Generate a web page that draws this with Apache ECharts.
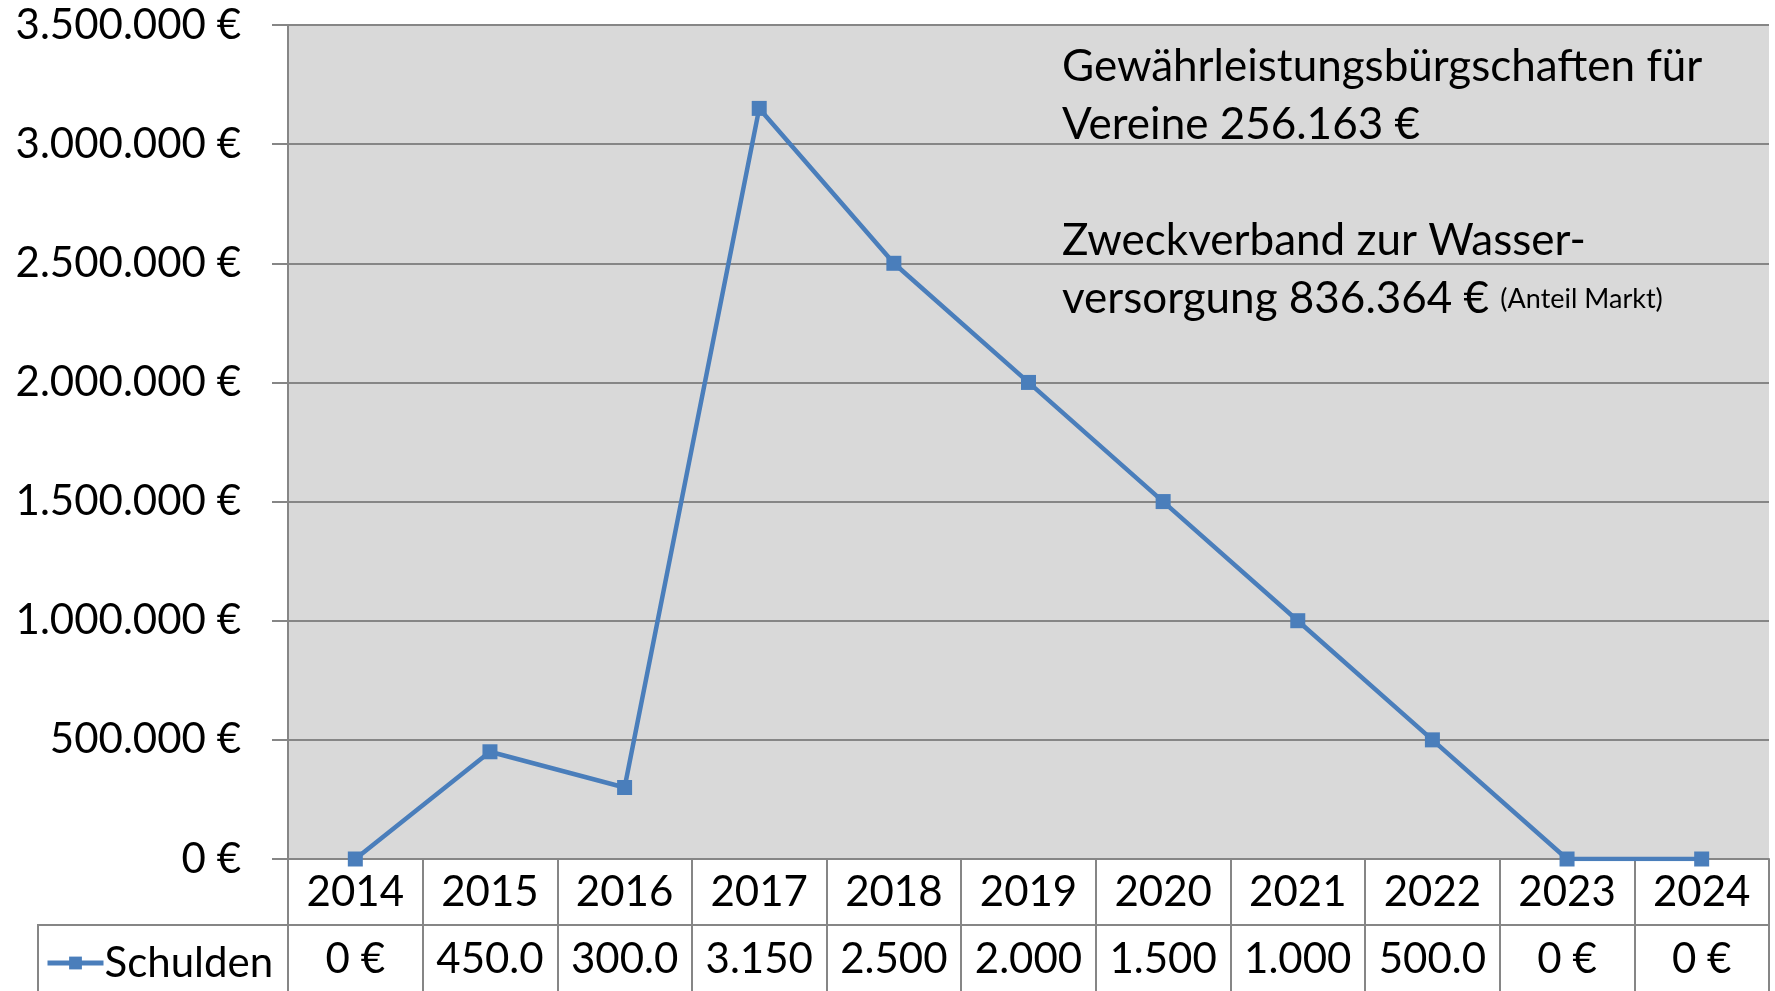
<!DOCTYPE html>
<html><head><meta charset="utf-8">
<script src="https://cdn.jsdelivr.net/npm/echarts@6/dist/echarts.min.js"></script>
<style>html,body{margin:0;padding:0;background:#fff}#c{width:1775px;height:991px}</style>
</head><body><div id="c"></div>
<script>
const years = ['2014','2015','2016','2017','2018','2019','2020','2021','2022','2023','2024'];
const schulden = [0, 450000, 300000, 3150000, 2500000, 2000000, 1500000, 1000000, 500000, 0, 0];
const tableLabels = ['0 €','450.0','300.0','3.150','2.500','2.000','1.500','1.000','500.0','0 €','0 €'];
const seriesName = 'Schulden';
const noteLines = ['Gewährleistungsbürgschaften für', 'Vereine 256.163 €', '', 'Zweckverband zur Wasser-', 'versorgung 836.364 € {s|(Anteil Markt)}'];

const FONT = 'Lato';
const FS = 42;
const GRAY = '#868686';
const BLUE = '#4A7EBB';
const fmt = v => String(v).replace(/\B(?=(\d{3})+(?!\d))/g, '.') + ' €';

const chart = echarts.init(document.getElementById('c'), null, {renderer: 'canvas'});
chart.setOption({
  animation: false,
  textStyle: {fontFamily: FONT},
  grid: [
    {left: 288, right: 6, top: 25, bottom: 132, show: true, backgroundColor: '#D9D9D9', borderWidth: 0},
    {left: 288, right: 6, top: 925, height: 70, show: false}
  ],
  legend: {
    left: 40, top: 937, itemWidth: 56, itemHeight: 16, itemGap: 0,
    lineStyle: {width: 5, color: BLUE},
    textStyle: {fontFamily: FONT, fontSize: FS, color: '#000', padding: [0,0,0,-4]},
    data: [seriesName]
  },
  xAxis: [
    {type: 'category', gridIndex: 0, data: years, boundaryGap: true,
     axisLine: {show: true, lineStyle: {color: GRAY, width: 2}},
     axisTick: {show: true, interval: 0, length: 66, lineStyle: {color: GRAY, width: 2}},
     axisLabel: {interval: 0, fontFamily: FONT, fontSize: FS, color: '#000', margin: 33, verticalAlign: 'middle'},
     splitLine: {show: false}},
    {type: 'category', gridIndex: 1, data: tableLabels, boundaryGap: true, position: 'top',
     axisLine: {show: true, onZero: false, lineStyle: {color: GRAY, width: 2}},
     axisTick: {show: false},
     axisLabel: {inside: true, interval: 0, fontFamily: FONT, fontSize: FS, color: '#000', margin: 34, verticalAlign: 'middle'},
     splitLine: {show: true, interval: 0, lineStyle: {color: GRAY, width: 2}}}
  ],
  yAxis: [
    {type: 'value', gridIndex: 0, min: 0, max: 3500000, interval: 500000,
     axisLine: {show: true, lineStyle: {color: GRAY, width: 2}},
     axisTick: {show: true, length: 16, lineStyle: {color: GRAY, width: 2}},
     axisLabel: {fontFamily: FONT, fontSize: FS, color: '#000', margin: 47, formatter: fmt},
     splitLine: {show: true, lineStyle: {color: GRAY, width: 2}}},
    {type: 'value', gridIndex: 1, show: false, splitLine: {show: false}}
  ],
  graphic: [
    {type: 'line', shape: {x1: 37, y1: 925, x2: 288, y2: 925}, style: {stroke: GRAY, lineWidth: 2}},
    {type: 'line', shape: {x1: 38, y1: 925, x2: 38, y2: 991}, style: {stroke: GRAY, lineWidth: 2}},
    {type: 'text', left: 1062, top: 38,
     style: {text: noteLines.join('\n'), font: '44px ' + FONT, fill: '#000', lineHeight: 58,
             rich: {s: {fontFamily: FONT, fontSize: 27, fill: '#000', lineHeight: 58}}}}
  ],
  series: [{
    name: seriesName, type: 'line', xAxisIndex: 0, yAxisIndex: 0, data: schulden,
    symbol: 'rect', symbolSize: 15, showSymbol: true,
    itemStyle: {color: BLUE}, lineStyle: {color: BLUE, width: 4.5}
  }]
});
</script></body></html>
